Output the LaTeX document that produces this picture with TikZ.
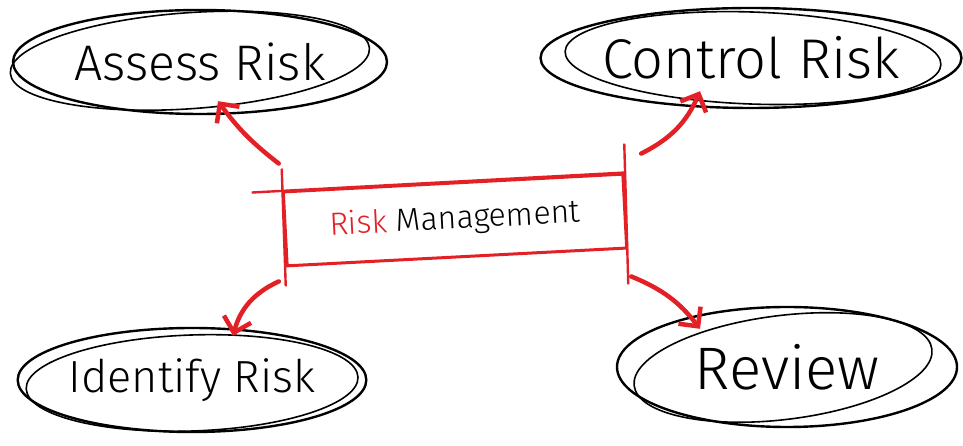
\documentclass[tikz,border=0pt]{standalone}
\usepackage{fontspec}
\setmainfont{Fira Sans Light}
\usetikzlibrary{shapes.geometric,arrows.meta}
\definecolor{penred}{RGB}{226,32,38}
\tikzset{
  bubble/.style={ellipse,draw=black,line width=2.4pt,inner sep=0pt},
  stroke/.style={draw=black,line width=1.6pt},
  redbox/.style={rectangle,draw=penred,line width=3pt,minimum width=340pt,minimum height=74pt,rotate=3},
  redline/.style={penred,line width=2.4pt},
  pointer/.style={penred,line width=4.5pt,line cap=round,-{Straight Barb[length=14pt,width=28pt]}}
}
\begin{document}
\begin{tikzpicture}[x=1pt,y=1pt]
  \useasboundingbox (0,0) rectangle (963,446);
  % centre box
  \node[redbox] (rm) at (455,226) {\fontsize{32}{36}\selectfont\textcolor{penred}{Risk} Management};
  \draw[redline] ([shift={(-30pt,-2pt)}]rm.north west) -- (rm.north east);
  \draw[redline] ([yshift=22pt]rm.north west) -- ([yshift=-19pt]rm.south west);
  \draw[redline] ([yshift=29pt]rm.north east) -- ([yshift=-35pt]rm.south east);

  % the four steps
  \node[bubble,minimum width=374pt,minimum height=104pt] (assess) at (200,384) {\fontsize{50}{58}\selectfont Assess Risk};
  \node[bubble,minimum width=420pt,minimum height=100pt] (control) at (751,388) {\fontsize{56}{64}\selectfont Control Risk};
  \node[bubble,minimum width=340pt,minimum height=104pt] (identify) at (192,66) {\fontsize{45}{52}\selectfont Identify Risk};
  \node[bubble,minimum width=340pt,minimum height=120pt] (review) at (787,79) {\fontsize{60}{68}\selectfont Review};

  % second pen strokes
  \draw[stroke,rotate around={4:(assess.center)}] ([shift={(-10pt,2pt)}]assess.center) ellipse (180pt and 48pt);
  \draw[stroke,rotate around={-2:(control.center)}] ([xshift=2pt]control.center) ellipse (188pt and 46pt);
  \draw[stroke,rotate around={2:(identify.center)}] ([yshift=-3pt]identify.center) ellipse (166pt and 48pt);
  \draw[stroke,rotate around={7:(review.center)}] ([xshift=-4pt]review.center) ellipse (150pt and 52pt);

  \draw[pointer] ([shift={(-3pt,27pt)}]rm.north west) to[bend left=8] ([shift={(18pt,14pt)}]assess.south);
  \draw[pointer] ([shift={(17pt,19pt)}]rm.north east) to[bend right=20] ([shift={(-51pt,18pt)}]control.south);
  \draw[pointer] ([shift={(-7pt,-14pt)}]rm.south west) to[bend right=25] ([shift={(41pt,-9pt)}]identify.north);
  \draw[pointer] ([shift={(3pt,-27pt)}]rm.south east) to[bend left=15] ([shift={(-87pt,-23pt)}]review.north);
\end{tikzpicture}
\end{document}
